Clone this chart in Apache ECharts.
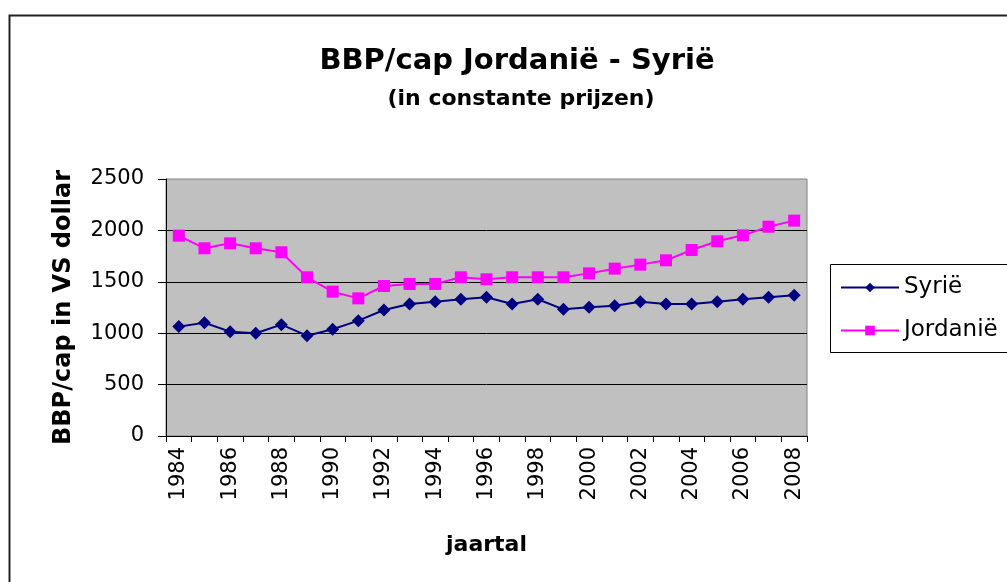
<!DOCTYPE html>
<html>
<head>
<meta charset="utf-8">
<script src="https://cdn.jsdelivr.net/npm/echarts@6/dist/echarts.min.js"></script>
<style>
  html, body { margin: 0; padding: 0; background: #fff; }
  #chart { width: 1007px; height: 582px; }
</style>
</head>
<body>
<div id="chart"></div>
<script>
const years = ['1984', '1985', '1986', '1987', '1988', '1989', '1990', '1991', '1992', '1993',
    '1994', '1995', '1996', '1997', '1998', '1999', '2000', '2001', '2002', '2003',
    '2004', '2005', '2006', '2007', '2008'];
const syrie = [1064, 1102, 1015, 999, 1083, 976, 1038, 1122, 1226, 1284,
    1307, 1330, 1349, 1284, 1330, 1232, 1252, 1268, 1307, 1284,
    1284, 1307, 1330, 1349, 1368];
const jordanie = [1949, 1826, 1874, 1826, 1787, 1544, 1404, 1339, 1459, 1479,
    1479, 1544, 1524, 1544, 1544, 1544, 1582, 1628, 1667, 1709,
    1809, 1894, 1952, 2036, 2095];
const yTicks = [0, 500, 1000, 1500, 2000, 2500];

const font = 'DejaVu Sans, sans-serif';

echarts.init(document.getElementById('chart')).setOption({
    animation: false,
    textStyle: { fontFamily: font, color: '#000' },
    title: [{
        text: 'BBP/cap Jordanië - Syrië',
        left: 512, top: 42, textAlign: 'center',
        textStyle: { fontSize: 29, fontWeight: 'bold', fontFamily: font, color: '#000' }
    }, {
        text: '(in constante prijzen)',
        left: 516, top: 83, textAlign: 'center',
        textStyle: { fontSize: 22, fontWeight: 'bold', fontFamily: font, color: '#000' }
    }],
    graphic: [{
        type: 'rect', z: -1,
        shape: { x: 9.5, y: 15.5, width: 1010, height: 600 },
        style: { fill: 'none', stroke: '#222', lineWidth: 2 }
    }, {
        type: 'rect',
        shape: { x: 830.5, y: 264.5, width: 200, height: 88 },
        style: { fill: '#fff', stroke: '#000', lineWidth: 1 }
    }],
    legend: {
        orient: 'vertical',
        left: 840, top: 276, padding: 0,
        itemWidth: 58, itemHeight: 12, itemGap: 20,
        textStyle: { fontSize: 23, fontFamily: font, color: '#000' },
        z: 10,
        data: ['Syrië', 'Jordanië']
    },
    grid: {
        left: 166, right: 200, top: 179, bottom: 146,
        show: true, backgroundColor: '#c0c0c0', borderColor: '#808080', borderWidth: 1
    },
    xAxis: {
        type: 'category',
        data: years,
        name: 'jaartal',
        nameLocation: 'middle',
        nameGap: 98,
        nameTextStyle: { fontSize: 22, fontWeight: 'bold', fontFamily: font, color: '#000' },
        axisLine: { lineStyle: { color: '#000', width: 1 } },
        axisTick: { show: true, interval: 0, length: 6, lineStyle: { color: '#000' } },
        axisLabel: { interval: 1, rotate: 90, fontSize: 21, margin: 11, color: '#000', fontFamily: font }
    },
    yAxis: {
        type: 'value',
        min: yTicks[0], max: yTicks[yTicks.length - 1], interval: 500,
        name: 'BBP/cap in VS dollar',
        nameLocation: 'middle',
        nameGap: 90,
        nameTextStyle: { fontSize: 24, fontWeight: 'bold', fontFamily: font, color: '#000' },
        axisLine: { show: true, lineStyle: { color: '#000', width: 1 } },
        axisTick: { show: true, length: 8, lineStyle: { color: '#000' } },
        axisLabel: { fontSize: 21, margin: 22, color: '#000', fontFamily: font, formatter: v => String(v) },
        splitLine: { show: true, showMaxLine: false, lineStyle: { color: '#000', width: 1 } }
    },
    series: [{
        name: 'Syrië',
        type: 'line',
        data: syrie,
        symbol: 'diamond',
        symbolSize: 13,
        itemStyle: { color: '#000080' },
        lineStyle: { color: '#000080', width: 2 }
    }, {
        name: 'Jordanië',
        type: 'line',
        data: jordanie,
        symbol: 'rect',
        symbolSize: 12,
        itemStyle: { color: '#ff00ff' },
        lineStyle: { color: '#ff00ff', width: 2 }
    }]
});
</script>
</body>
</html>
